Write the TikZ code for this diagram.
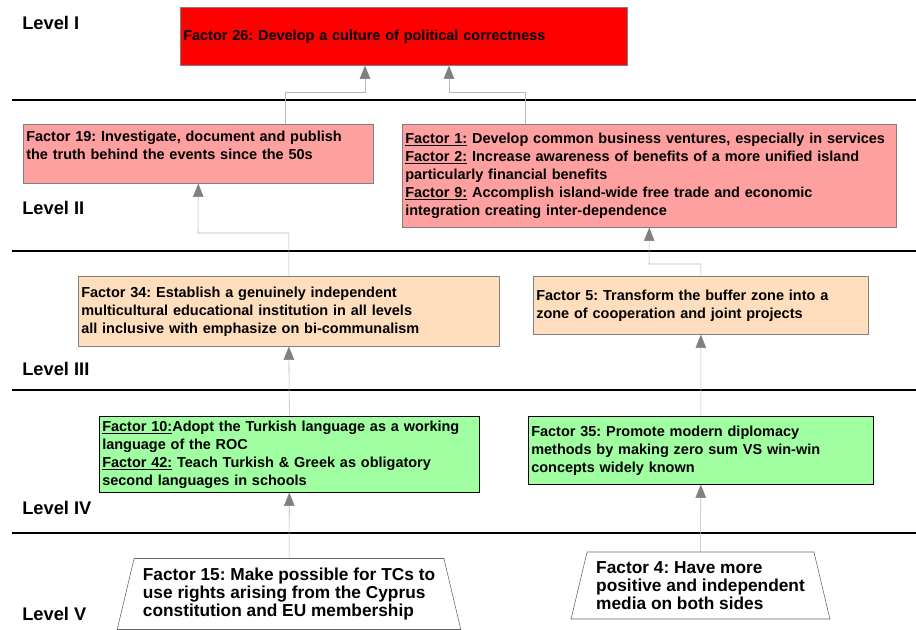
\documentclass[tikz,border=0pt]{standalone}
\usepackage{fontspec}
\setmainfont{Liberation Sans}
\usetikzlibrary{positioning,arrows.meta,shapes.geometric}
\definecolor{tierone}{RGB}{255,0,0}
\definecolor{tiertwo}{RGB}{255,160,160}
\definecolor{tierthree}{RGB}{255,222,190}
\definecolor{tierfour}{RGB}{160,255,160}
\frenchspacing

\begin{document}
\begin{tikzpicture}[x=0.025cm,y=-0.025cm,
		factor/.style={draw=gray,anchor=north west,align=left,inner xsep=0.075cm,inner ysep=0pt,
			font=\fontsize{10.3}{12.8}\selectfont\bfseries},
		root/.style={trapezium,draw=gray!80!black,trapezium left angle=73,trapezium right angle=73,
			trapezium stretches=true,align=left,inner sep=0pt,font=\fontsize{12.3}{12.8}\selectfont\bfseries},
		tier/.style={anchor=west,inner sep=0pt,font=\fontsize{13}{14}\selectfont\bfseries},
		tierline/.style={line width=1.6pt},
		link/.style={draw=gray!55,-{Triangle[width=7.5pt,length=9.5pt,color=gray]}}]
		
		\useasboundingbox (0,0) rectangle (916,630);
		
		% levels
		\node[tier] (l1) at (22,23) {Level I};
		\node[tier] (l2) at (22,208) {Level II};
		\node[tier] (l3) at (22,369) {Level III};
		\node[tier] (l4) at (22,508) {Level IV};
		\node[tier] (l5) at (22,614) {Level V};
		\foreach \y in {100,251,390,533}
			\draw[tierline] (12,\y) -- (916,\y);
		
		% factors
		\node[factor,fill=tierone,minimum width=11.175cm,minimum height=1.45cm,text width=11.025cm] (f26) at (180,7)
			{Factor 26: Develop a culture of political correctness};
		\node[factor,fill=tiertwo,minimum width=8.75cm,minimum height=1.475cm,text width=8.6cm] (f19) at (23,124)
			{Factor 19: Investigate, document and publish\\the truth behind the events since the 50s\\~};
		\node[factor,fill=tiertwo,minimum width=12.35cm,minimum height=2.575cm,text width=12.2cm] (f1) at (402,124)
			{\underline{Factor 1:} Develop common business ventures, especially in services\\
			\underline{Factor 2:} Increase awareness of benefits of a more unified island\\
			particularly financial benefits\\
			\underline{Factor 9:} Accomplish island-wide free trade and economic\\
			integration creating inter-dependence};
		\node[factor,fill=tierthree,minimum width=10.525cm,minimum height=1.75cm,text width=10.375cm] (f34) at (78,276)
			{Factor 34: Establish a genuinely independent\\
			multicultural educational institution in all levels\\
			all inclusive with emphasize on bi-communalism};
		\node[factor,fill=tierthree,minimum width=8.375cm,minimum height=1.45cm,text width=8.225cm] (f5) at (533,276)
			{Factor 5: Transform the buffer zone into a\\zone of cooperation and joint projects};
		\node[factor,draw=black,fill=tierfour,minimum width=9.5cm,minimum height=1.9cm,text width=9.35cm] (f10) at (99,416)
			{\underline{Factor 10:}Adopt the Turkish language as a working\\
			language of the ROC\\
			\underline{Factor 42:} Teach Turkish \& Greek as obligatory\\
			second languages in schools};
		\node[factor,draw=black,fill=tierfour,minimum width=8.625cm,minimum height=1.7cm,text width=8.475cm] (f35) at (528,416)
			{Factor 35: Promote modern diplomacy\\
			methods by making zero sum VS win-win\\
			concepts widely known};
		\node[root,minimum width=8.6cm,minimum height=1.775cm] (f15) at (289,594)
			{Factor 15: Make possible for TCs to\\
			use rights arising from the Cyprus\\
			constitution and EU membership};
		\node[root,minimum width=6.475cm,minimum height=1.675cm] (f4) at (700.5,585.5)
			{Factor 4: Have more\\
			positive and independent\\
			media on both sides};
		
		% links
		\coordinate (k1) at (285,92);
		\coordinate (k2) at (365,92);
		\coordinate (k3) at (525,92);
		\coordinate (k4) at (449,92);
		\coordinate (k5) at (198,233);
		\coordinate (k6) at (649,264);
		\draw[link] (f19.north -| k1) -- (k1) -- (k2) -- (f26.south -| k2);
		\draw[link] (f1.north -| k3) -- (k3) -- (k4) -- (f26.south -| k4);
		\draw[link] (f34.north) |- (k5) -- (f19.south);
		\draw[link] (f5.north) |- (k6) -- (f1.south);
		\draw[link] (f10.north) -- (f34.south);
		\draw[link] (f35.north) -- (f5.south);
		\draw[link] (f15.north) -- (f10.south);
		\draw[link] (f4.north) -- (f35.south);
\end{tikzpicture}
\end{document}
